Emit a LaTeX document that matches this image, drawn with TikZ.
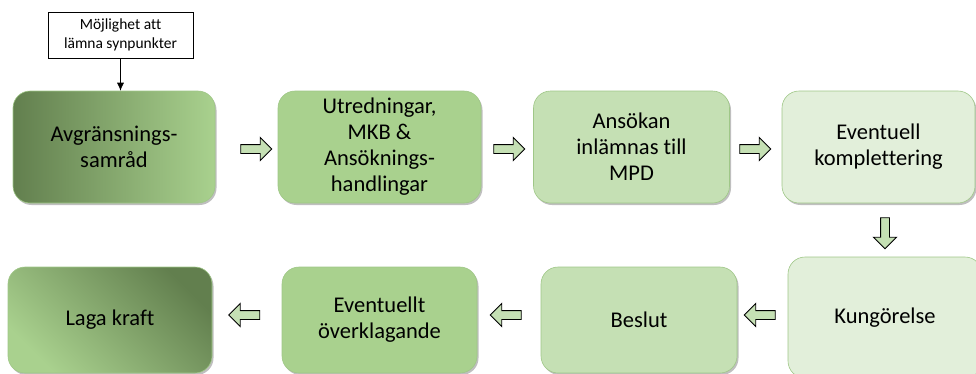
\documentclass[tikz,border=0pt]{standalone}
\usepackage{fontspec}
\setmainfont{Carlito}[Ligatures=NoCommon]
\usetikzlibrary{shapes.arrows, arrows.meta, shadows}
\definecolor{darkgreen}{HTML}{627F4E}
\definecolor{midgreen}{HTML}{A9D18E}
\definecolor{lightgreen}{HTML}{C5E0B4}
\definecolor{palegreen}{HTML}{E2EFDA}
\definecolor{edgegreen}{HTML}{9FC787}
\tikzset{
	stepnode/.style = {rectangle, rounded corners=17pt, draw=edgegreen, line width=0.6pt, align=center, text centered, inner sep=2pt, font=\fontsize{22.5}{26}\selectfont, minimum width=196pt, minimum height=112pt, drop shadow={shadow xshift=1.5pt, shadow yshift=-2pt, opacity=0.25, fill=black}},
	stage1/.style = {stepnode, left color=darkgreen, right color=midgreen, minimum width=202pt},
	stage2/.style = {stepnode, fill=midgreen},
	stage3/.style = {stepnode, fill=lightgreen},
	stage4/.style = {stepnode, fill=palegreen},
	stage5/.style = {stepnode, top color=darkgreen, bottom color=midgreen, shading angle=-45, minimum width=204pt},
	notebox/.style = {rectangle, draw=black, fill=white, line width=0.6pt, align=center, font=\fontsize{15.5}{19}\selectfont, minimum width=145pt, minimum height=46pt, inner sep=1pt},
	blockarrow/.style = {single arrow, draw=black, fill=lightgreen, line width=0.9pt, inner xsep=0pt, inner ysep=4pt, minimum height=31pt, minimum width=22pt, single arrow head extend=7pt, single arrow head indent=0pt},
	line/.style = {draw, line width=0.6pt, -{Latex[length=8pt, width=7pt]}}
}

\begin{document}
\begin{tikzpicture}[x=1pt, y=-1pt]
		\useasboundingbox (0,0) rectangle (976,373);
		\clip (0,0) rectangle (976,373);
		% rutorna
		\node (avgr) [stage1] at (114,147) {Avgränsnings-\\samråd};
		\node (utred) [stage2, right of=avgr, node distance=265.5pt, minimum width=203pt] {Utredningar,\\MKB \&\\Ansöknings-\\handlingar};
		\node (ansok) [stage3, right of=utred, node distance=252pt] {Ansökan\\inlämnas till\\MPD};
		\node (komp) [stage4, right of=ansok, node distance=247pt, minimum width=193pt] {Eventuell\\komplettering};
		\node (kung) [stage4, below of=komp, node distance=170.5pt, xshift=6.5pt, minimum width=194pt, minimum height=121pt] {Kungörelse};
		\node (beslut) [stage3, left of=kung, node distance=246pt, yshift=-2.5pt, minimum height=106pt] {Beslut};
		\node (overkl) [stage2, left of=beslut, node distance=259.5pt, minimum width=195pt, minimum height=106pt] {Eventuellt\\överklagande};
		\node (laga) [stage5, left of=overkl, node distance=269.5pt, minimum height=106pt] {Laga kraft};
		\node (note) [notebox, above of=avgr, node distance=112pt, xshift=6.5pt] {Möjlighet att\\lämna synpunkter};

		% pilarna
		\node (pil1) [blockarrow, right of=avgr, node distance=140pt, yshift=-2pt] {};
		\node (pil2) [blockarrow, right of=utred, node distance=127.5pt, yshift=-2pt] {};
		\node (pil3) [blockarrow, right of=ansok, node distance=121.5pt, yshift=-2pt] {};
		\node (pil4) [blockarrow, below of=komp, node distance=84pt, xshift=6.5pt, rotate=-90] {};
		\node (pil5) [blockarrow, left of=kung, node distance=123pt, yshift=2.5pt, rotate=180] {};
		\node (pil6) [blockarrow, left of=beslut, node distance=131pt, yshift=5pt, rotate=180] {};
		\node (pil7) [blockarrow, left of=overkl, node distance=133pt, yshift=5pt, rotate=180] {};

		\path [line] (note.south) -- (note.south |- avgr.north);
\end{tikzpicture}
\end{document}
